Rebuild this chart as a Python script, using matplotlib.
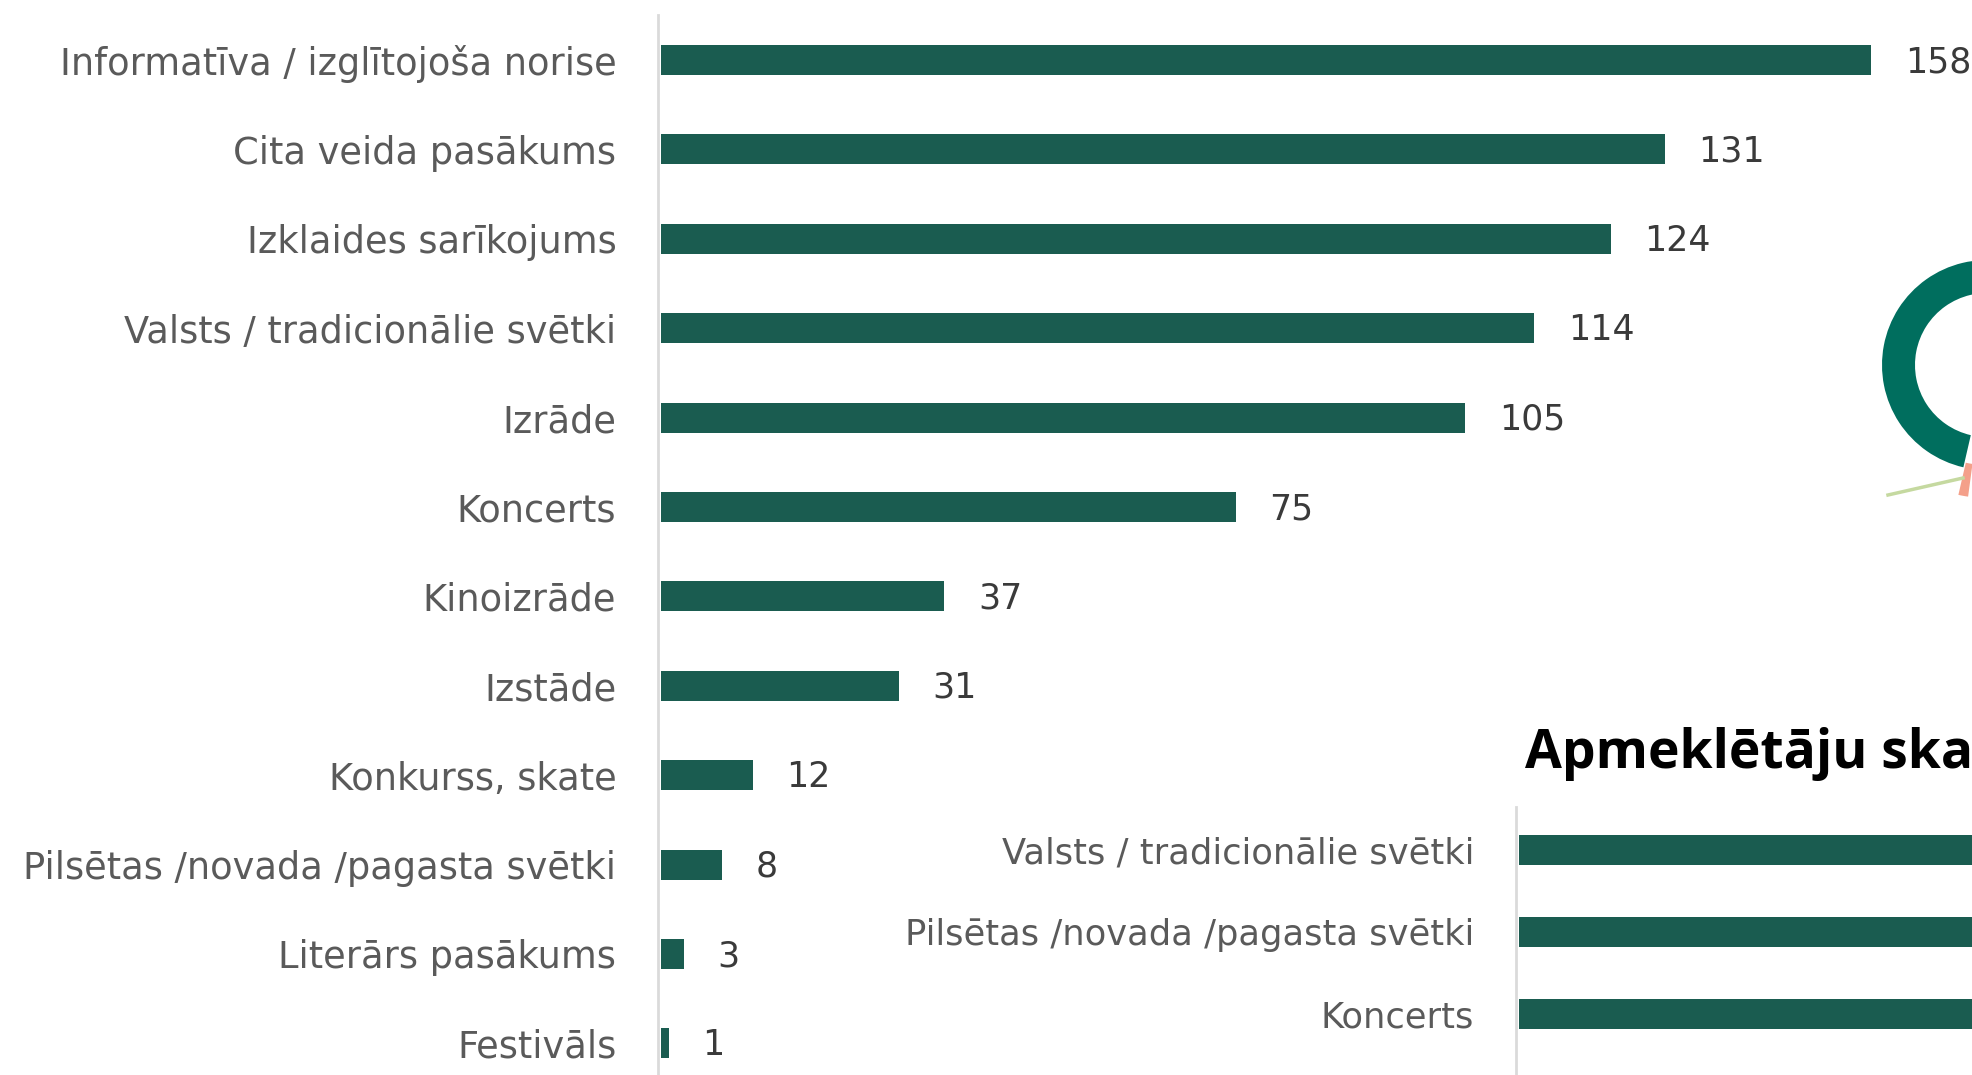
import matplotlib
matplotlib.use("Agg")
import matplotlib.pyplot as plt
from matplotlib.transforms import ScaledTranslation

# ---- data ----
categories = [
    "Informatīva / izglītojoša norise",
    "Cita veida pasākums",
    "Izklaides sarīkojums",
    "Valsts / tradicionālie svētki",
    "Izrāde",
    "Koncerts",
    "Kinoizrāde",
    "Izstāde",
    "Konkurss, skate",
    "Pilsētas /novada /pagasta svētki",
    "Literārs pasākums",
    "Festivāls",
]
counts = [158, 131, 124, 114, 105, 75, 37, 31, 12, 8, 3, 1]

attendance_title = "Apmeklētāju ska"
attendance_categories = [
    "Valsts / tradicionālie svētki",
    "Pilsētas /novada /pagasta svētki",
    "Koncerts",
    "Izklaides sarīkojums",
]
attendance_values = [100, 100, 100, 100]   # bars run past the visible edge

donut_values = [97.5, 1.5, 1.0]
donut_colors = ["#006e5e", "#f4a08a", "#b9d68f"]
donut_explode = [0, 28, 0]

# ---- figure ----
W, H = 1972, 1075
fig = plt.figure(figsize=(W / 100, H / 100), dpi=100)
fig.patch.set_facecolor("white")

BAR = "#1a5c50"
LABEL = "#5a5a5a"
VALUE = "#3a3a3a"
AXIS = "#dadada"
FONT = "DejaVu Sans"

def px_axes(left, top, right, bottom):
    return fig.add_axes([left / W, (H - bottom) / H, (right - left) / W, (bottom - top) / H])

lift = ScaledTranslation(0, 3 / 100, fig.dpi_scale_trans)

# main chart
ax = px_axes(658, 15, W, H)
px_per_unit = 7.66
ax.set_xlim(-0.4, (W - 658) / px_per_unit - 0.4)
sp = 89.4
ax.set_ylim(11 + (H - (60 + 11 * sp)) / sp, -45 / sp)
y = list(range(len(categories)))
ax.barh(y, counts, height=0.336, color=BAR, left=0)
ax.set_yticks(y)
ax.set_yticklabels(categories, fontsize=26.5, color=LABEL, family=FONT)
for lbl in ax.get_yticklabels():
    lbl.set_transform(lbl.get_transform() + lift)
ax.tick_params(axis="y", length=0, pad=30)
ax.set_xticks([])
for s in ["top", "right", "bottom"]:
    ax.spines[s].set_visible(False)
ax.spines["left"].set_color(AXIS)
ax.spines["left"].set_linewidth(2)
for yi, v in zip(y, counts):
    ax.annotate(str(v), (v, yi), xytext=(24, -1.5), textcoords="offset points",
                va="center", ha="left", fontsize=25, color=VALUE, family=FONT)

# donut (mostly outside the frame)
cx, cy, half = 1987, 365, 170
axd = px_axes(cx - half, cy - half, cx + half, cy + half)
wedges, _ = axd.pie(donut_values, colors=donut_colors, startangle=266,
                    counterclock=True, radius=105,
                    explode=donut_explode,
                    wedgeprops=dict(width=33, linewidth=0))
axd.plot([-24, -99], [-113, -130], color="#c5d9a0", linewidth=2.5)
axd.set_xlim(-half, half)
axd.set_ylim(-half, half)
axd.set_aspect("equal")
axd.axis("off")

# second chart title
fig.text(1525 / W, (H - 768) / H, attendance_title, fontsize=38.5, fontweight="bold",
         family="Open Sans", color="black", va="baseline", ha="left")

# second chart
ax2 = px_axes(1516, 807, W, 1140)
sp2 = 82
ax2.set_ylim((1140 - 850) / sp2, -43 / sp2)
ax2.set_xlim(-0.3, 40)
y2 = list(range(len(attendance_categories)))
ax2.barh(y2, attendance_values, height=0.366, color=BAR)
ax2.set_yticks(y2)
ax2.set_yticklabels(attendance_categories, fontsize=25.4, color=LABEL, family=FONT)
for lbl in ax2.get_yticklabels():
    lbl.set_transform(lbl.get_transform() + lift)
ax2.tick_params(axis="y", length=0, pad=30)
ax2.set_xticks([])
for s in ["top", "right", "bottom"]:
    ax2.spines[s].set_visible(False)
ax2.spines["left"].set_color(AXIS)
ax2.spines["left"].set_linewidth(2)

fig.savefig("out.png", dpi=100, facecolor="white")
